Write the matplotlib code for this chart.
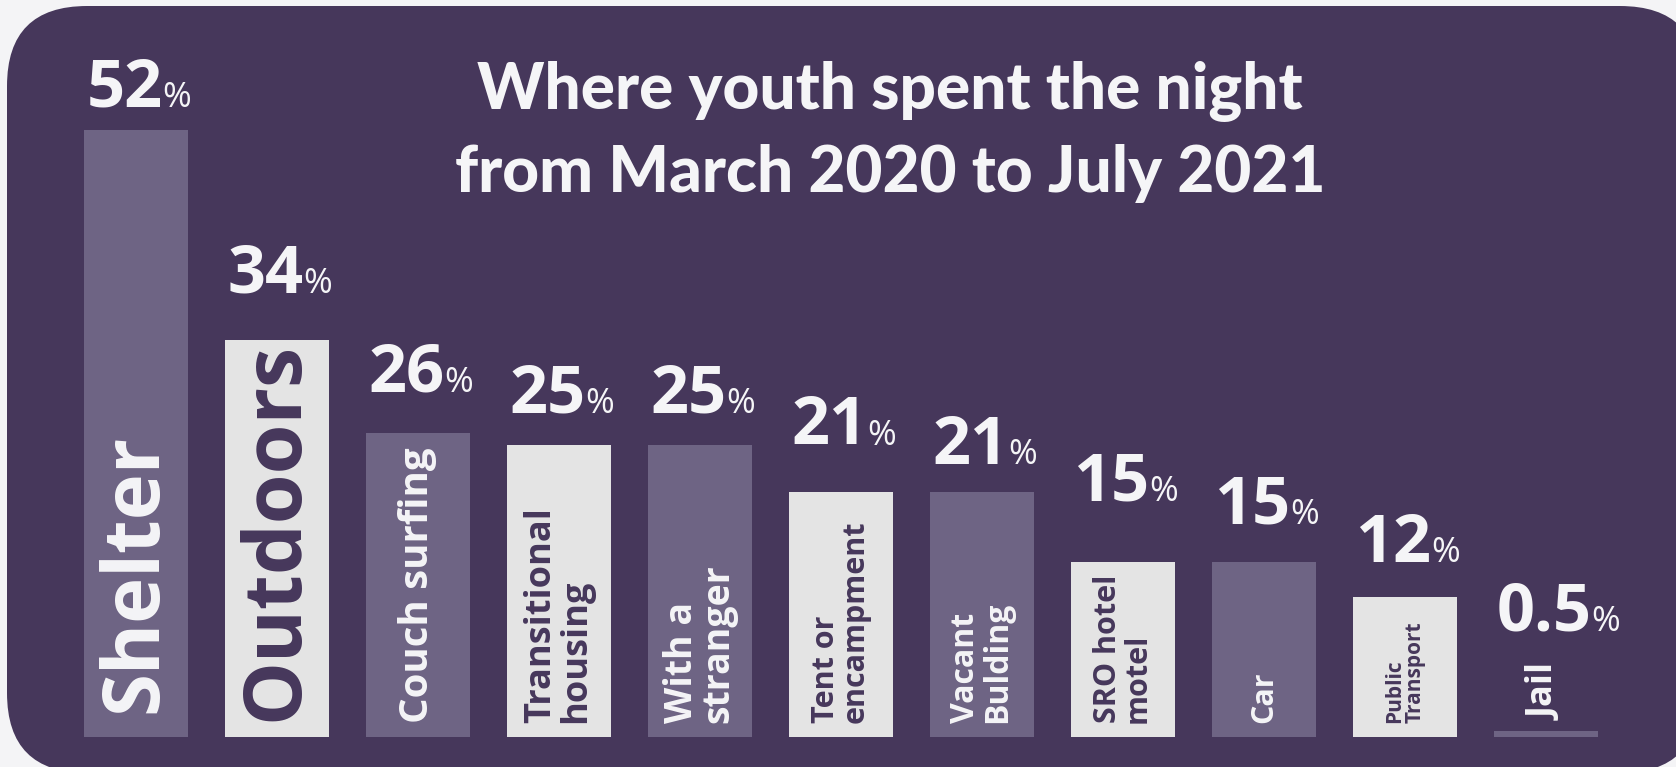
import matplotlib
matplotlib.use('Agg')
import matplotlib.pyplot as plt
import matplotlib.patches as mpatches
import matplotlib.transforms as mtransforms
import numpy as np

# where youth spent the night, share of respondents (%)
places = ['Shelter', 'Outdoors', 'Couch surfing', 'Transitional\nhousing', 'With a\nstranger',
          'Tent or\nencampment', 'Vacant\nBulding', 'SRO hotel\nmotel', 'Car',
          'Public\nTransport', 'Jail']
shares = [52, 34, 26, 25, 25, 21, 21, 15, 15, 12, 0.5]
share_labels = ['52', '34', '26', '25', '25', '21', '21', '15', '15', '12', '0.5']
title_lines = ['Where youth spent the night', 'from March 2020 to July 2021']

# text styling per bar
name_sizes = [56, 58, 29, 26, 27, 22, 23, 22, 22, 15, 26]
name_pad = [17, 11, 10, 10, 10, 10, 10, 10, 10, 10, 8]   # points above the bar bottom
value_gap = [17, 34, 30, 23, 23, 34, 20, 44, 27, 25, 72]  # points above the bar top

PAGE = '#f4f4f6'
BG = '#46375b'
BAR_PURPLE = '#6e6484'
BAR_GREY = '#e4e4e4'
WHITE = '#f5f5f7'

plt.rcParams['font.family'] = ['Open Sans', 'DejaVu Sans']

W, H = 1676, 767
fig = plt.figure(figsize=(W / 100, H / 100), dpi=100, facecolor=PAGE)

# rounded purple card behind everything
card = mpatches.FancyBboxPatch((7, -6), 1693, 767, boxstyle='round,pad=0,rounding_size=80',
                               transform=mtransforms.IdentityTransform(),
                               facecolor=BG, edgecolor='none', zorder=0)
fig.add_artist(card)

# axes laid out so one category step is 141 px and 1% is ~11.7 px
step = 141
first = 135.8
ax = fig.add_axes([0, 30.5 / H, 1, 700 / H])
ax.set_xlim(-first / step, (W - first) / step)
ax.set_ylim(0, 60)
ax.axis('off')
ax.patch.set_visible(False)

x = np.arange(len(places))
width = 0.74
colors = [BAR_PURPLE if i % 2 == 0 else BAR_GREY for i in x]
ax.bar(x, shares, width=width, color=colors, linewidth=0)

for i, (name, val) in enumerate(zip(places, shares)):
    inside = val > 5
    if inside:
        txt_color = WHITE if i % 2 == 0 else BG
        base = 0
    else:
        txt_color = WHITE
        base = val
    ax.annotate(name, xy=(i, base), xytext=(0, name_pad[i]), textcoords='offset points',
                rotation=90, rotation_mode='anchor', ha='left', va='center',
                fontsize=name_sizes[i], fontweight='bold', color=txt_color,
                linespacing=0.95)

    num = ax.annotate(share_labels[i], xy=(i - width / 2, val), xytext=(2, value_gap[i]),
                      textcoords='offset points', ha='left', va='baseline',
                      fontsize=48, fontweight='bold', color=WHITE)
    ax.annotate('%', xy=(1, 0), xycoords=num, xytext=(0, 5.5), textcoords='offset points',
                ha='left', va='bottom', fontsize=25, color=WHITE)

for line, y_px in zip(title_lines, [109, 192]):
    fig.text(0.531, 1 - y_px / H, line, ha='center', va='baseline',
             fontsize=46, fontweight='black', color=WHITE, family=['Lato', 'DejaVu Sans'])

fig.savefig('out.png', dpi=100, facecolor=PAGE)
